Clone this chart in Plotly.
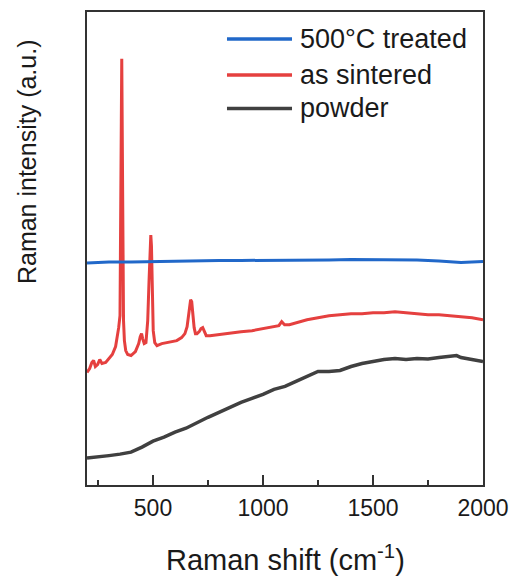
import plotly.graph_objects as go

# Raman shift (cm-1) and intensities (a.u.)
red_x = [200, 212, 222, 230, 238, 248, 258, 268, 285, 300, 315, 330, 338, 344, 350, 353, 356, 358,
         360, 363, 366, 370, 376, 385, 400, 420, 435, 442, 448, 453, 460, 468, 476, 482, 486, 490,
         493, 497, 501, 508, 518, 540, 560, 580, 608, 630, 645, 655, 662, 667, 671, 676, 681, 687,
         693, 700, 710, 718, 726, 733, 742, 759, 790, 820, 850, 900, 950, 1000, 1050, 1072, 1085,
         1098, 1120, 1150, 1200, 1250, 1300, 1350, 1400, 1450, 1500, 1550, 1600, 1650, 1700, 1750,
         1800, 1850, 1900, 1950, 2000]
red_y = [113, 117, 123, 125, 119, 121, 126, 122, 123, 127, 131, 139, 148, 158, 170, 235, 365, 428,
         365, 225, 165, 145, 135, 131, 130, 134, 142, 149, 152, 147, 142, 143, 165, 205, 240, 251,
         240, 185, 155, 143, 140, 142, 143, 144, 145, 148, 152, 159, 171, 182, 186, 184, 171, 158,
         152, 152, 154, 157, 158, 154, 150, 150, 151, 152, 153, 154, 155, 157, 159, 160, 164,
         161, 161, 163, 166, 168, 170, 171, 172, 172, 173, 173, 174, 173, 172, 171,
         171, 170, 169, 168, 166]

blue_x = [200, 250, 300, 400, 500, 600, 700, 800, 900, 1000, 1100, 1200, 1300, 1400, 1500, 1600,
          1700, 1800, 1900, 2000]
blue_y = [223, 223.5, 224, 224, 224.5, 224.5, 225, 225.5, 225.5, 225.5, 226, 226, 226, 226.5, 226.5,
          226.5, 226, 225, 223.5, 224.5]

black_x = [200, 250, 300, 350, 400, 450, 500, 550, 600, 650, 700, 750, 800, 850, 900, 950, 1000,
           1050, 1100, 1150, 1200, 1250, 1300, 1350, 1400, 1450, 1500, 1550, 1600, 1650, 1700, 1750,
           1800, 1850, 1880, 1900, 1950, 2000]
black_y = [27, 28, 29.5, 31, 33, 38, 44, 48, 53, 57, 63, 68, 73, 78, 83, 87, 91, 96, 99, 104, 109,
           114, 114, 115, 119, 122, 124, 126, 127, 126, 127, 126.5, 128, 129, 130, 128, 126, 124]

names = ["500°C treated", "as sintered", "powder"]
colors = ["#2168c9", "#e5403f", "#404040"]
x_ticks = [500, 1000, 1500, 2000]
x_minor = [250, 750, 1250, 1750]

FONT = "Liberation Sans, Arial, sans-serif"

fig = go.Figure()
fig.add_trace(go.Scatter(x=black_x, y=black_y, mode="lines", name=names[2],
                         line=dict(color=colors[2], width=3.5), showlegend=False))
fig.add_trace(go.Scatter(x=red_x, y=red_y, mode="lines", name=names[1],
                         line=dict(color=colors[1], width=3), showlegend=False))
fig.add_trace(go.Scatter(x=blue_x, y=blue_y, mode="lines", name=names[0],
                         line=dict(color=colors[0], width=3), showlegend=False))

# manual legend
leg_y = [0.943, 0.867, 0.796]
for name, col, yy in zip(names, colors, leg_y):
    fig.add_shape(type="line", xref="paper", yref="paper", x0=0.3535, x1=0.5177, y0=yy, y1=yy,
                  line=dict(color=col, width=3.5))
    fig.add_annotation(xref="paper", yref="paper", x=0.533, y=yy, text=name, showarrow=False,
                       xanchor="left", yanchor="middle", font=dict(size=27, color="#1a1a1a", family=FONT))

fig.add_annotation(xref="paper", yref="paper", x=-0.15, y=0.684, text="Raman intensity (a.u.)",
                   textangle=-90, showarrow=False, xanchor="center", yanchor="middle",
                   font=dict(size=25, color="#1a1a1a", family=FONT))
fig.add_annotation(xref="paper", yref="paper", x=0.5, y=-0.1537, text="Raman shift (cm<sup>-1</sup>)",
                   showarrow=False, xanchor="center", yanchor="middle",
                   font=dict(size=29, color="#1a1a1a", family=FONT))

fig.update_layout(
    width=521, height=577,
    margin=dict(l=87, r=38, t=10, b=92),
    plot_bgcolor="white", paper_bgcolor="white",
    font=dict(family=FONT, color="#1a1a1a"),
    xaxis=dict(range=[200, 2000], tickvals=x_ticks, ticks="inside", ticklen=10, tickwidth=1.5,
               tickcolor="#333", showline=True, mirror=True, linecolor="#333", linewidth=1.5,
               showgrid=False, zeroline=False, tickfont=dict(size=23, color="#1a1a1a"),
               ticklabelstandoff=2,
               minor=dict(tickvals=x_minor, ticks="inside", ticklen=5, tickwidth=1.5, tickcolor="#333")),
    yaxis=dict(range=[0, 475], showticklabels=False, ticks="", showline=True, mirror=True,
               linecolor="#333", linewidth=1.5, showgrid=False, zeroline=False),
)

fig.write_html("out.html")
